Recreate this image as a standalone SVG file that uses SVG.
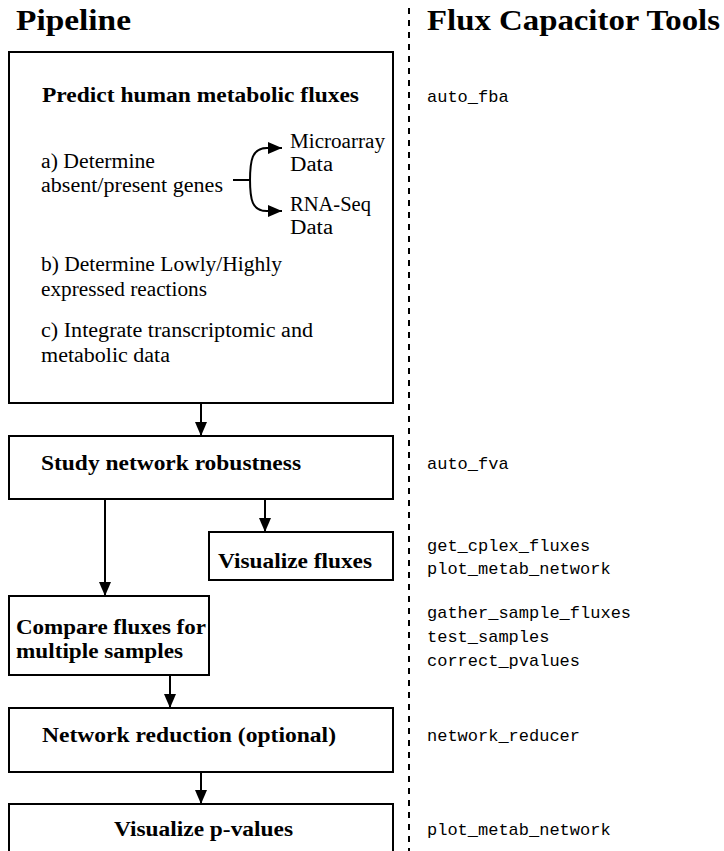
<svg xmlns="http://www.w3.org/2000/svg" width="724" height="851" viewBox="0 0 724 851">
  <style>
    .box { fill: #ffffff; stroke: #000000; stroke-width: 2; }
    .wire { fill: none; stroke: #000000; stroke-width: 2; }
    .sep { fill: none; stroke: #000000; stroke-width: 2; stroke-dasharray: 6 6; }
    .title { font-family: "Liberation Serif", serif; font-weight: bold; font-size: 29px; fill: #000; }
    .bold { font-family: "Liberation Serif", serif; font-weight: bold; font-size: 20px; fill: #000; }
    .step { font-family: "Liberation Serif", serif; font-size: 20px; fill: #000; }
    .tool { font-family: "Liberation Mono", monospace; font-size: 17px; fill: #000; }
  </style>
  <defs>
    <marker id="head" markerUnits="userSpaceOnUse" markerWidth="15" markerHeight="12" refX="14" refY="6" orient="auto">
      <path d="M0,0 L14,6 L0,12 z" fill="#000000"/>
    </marker>
  </defs>

  <rect width="724" height="851" fill="#ffffff"/>

  <!-- column headings and separator -->
  <g id="headings">
    <text class="title" x="16" y="30" textLength="115" lengthAdjust="spacingAndGlyphs">Pipeline</text>
    <text class="title" x="427" y="30" textLength="293" lengthAdjust="spacingAndGlyphs">Flux Capacitor Tools</text>
    <line class="sep" x1="409" y1="8" x2="409" y2="851"/>
  </g>

  <!-- pipeline steps -->
  <g id="predict">
    <rect class="box" x="9" y="52" width="384" height="351"/>
    <text class="bold" x="42" y="102" textLength="317" lengthAdjust="spacingAndGlyphs">Predict human metabolic fluxes</text>
    <g class="step">
      <text x="41" y="168" textLength="114" lengthAdjust="spacingAndGlyphs">a) Determine</text>
      <text x="41" y="192" textLength="182" lengthAdjust="spacingAndGlyphs">absent/present genes</text>
      <text x="290" y="148" textLength="95" lengthAdjust="spacingAndGlyphs">Microarray</text>
      <text x="290" y="171" textLength="43" lengthAdjust="spacingAndGlyphs">Data</text>
      <text x="290" y="211" textLength="81" lengthAdjust="spacingAndGlyphs">RNA-Seq</text>
      <text x="290" y="234" textLength="43" lengthAdjust="spacingAndGlyphs">Data</text>
      <text x="41" y="271" textLength="241" lengthAdjust="spacingAndGlyphs">b) Determine Lowly/Highly</text>
      <text x="41" y="296" textLength="166" lengthAdjust="spacingAndGlyphs">expressed reactions</text>
      <text x="41" y="337" textLength="272" lengthAdjust="spacingAndGlyphs">c) Integrate transcriptomic and</text>
      <text x="41" y="362" textLength="129" lengthAdjust="spacingAndGlyphs">metabolic data</text>
    </g>
  </g>

  <g id="robustness">
    <rect class="box" x="9" y="436" width="384" height="63"/>
    <text class="bold" x="41" y="470" textLength="260" lengthAdjust="spacingAndGlyphs">Study network robustness</text>
  </g>

  <g id="visualize-fluxes">
    <rect class="box" x="209" y="532" width="184" height="48"/>
    <text class="bold" x="218" y="568" textLength="154" lengthAdjust="spacingAndGlyphs">Visualize fluxes</text>
  </g>

  <g id="compare">
    <rect class="box" x="9" y="596" width="200" height="79"/>
    <text class="bold" x="16" y="634" textLength="190" lengthAdjust="spacingAndGlyphs">Compare fluxes for</text>
    <text class="bold" x="16" y="658" textLength="167" lengthAdjust="spacingAndGlyphs">multiple samples</text>
  </g>

  <g id="reduction">
    <rect class="box" x="9" y="708" width="384" height="64"/>
    <text class="bold" x="42" y="742" textLength="294" lengthAdjust="spacingAndGlyphs">Network reduction (optional)</text>
  </g>

  <g id="visualize-pvalues">
    <rect class="box" x="9" y="804" width="384" height="60"/>
    <text class="bold" x="114" y="836" textLength="179" lengthAdjust="spacingAndGlyphs">Visualize p-values</text>
  </g>

  <!-- tool names per step -->
  <g id="tools">
    <text class="tool" x="427" y="102">auto_fba</text>
    <text class="tool" x="427" y="469">auto_fva</text>
    <text class="tool" x="427" y="551">get_cplex_fluxes</text>
    <text class="tool" x="427" y="574">plot_metab_network</text>
    <text class="tool" x="427" y="618">gather_sample_fluxes</text>
    <text class="tool" x="427" y="642">test_samples</text>
    <text class="tool" x="427" y="666">correct_pvalues</text>
    <text class="tool" x="427" y="741">network_reducer</text>
    <text class="tool" x="427" y="835">plot_metab_network</text>
  </g>

  <!-- connectors -->
  <g id="connectors">
    <path class="wire" d="M233,180 H250"/>
    <path class="wire" d="M250,181 C250,160 252,148 267,148 H282" marker-end="url(#head)"/>
    <path class="wire" d="M250,179 C250,200 252,211 267,211 H282" marker-end="url(#head)"/>
    <line class="wire" x1="201" y1="403" x2="201" y2="436" marker-end="url(#head)"/>
    <line class="wire" x1="105" y1="499" x2="105" y2="596" marker-end="url(#head)"/>
    <line class="wire" x1="265" y1="499" x2="265" y2="532" marker-end="url(#head)"/>
    <line class="wire" x1="170" y1="675" x2="170" y2="708" marker-end="url(#head)"/>
    <line class="wire" x1="201" y1="772" x2="201" y2="804" marker-end="url(#head)"/>
  </g>
</svg>
